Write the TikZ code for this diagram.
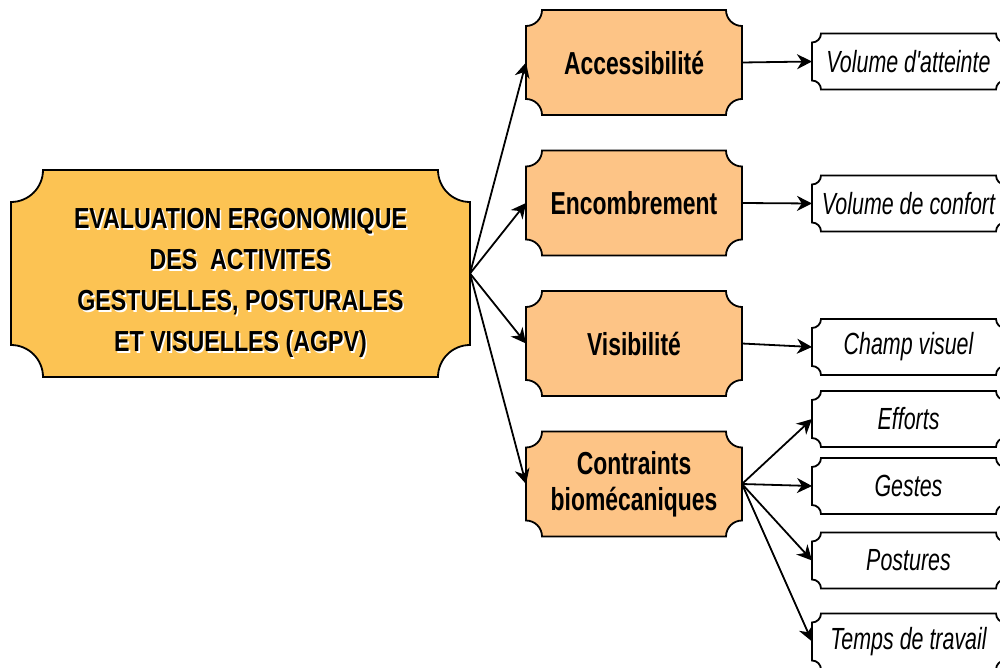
\documentclass[tikz,border=0pt]{standalone}
\usepackage{fontspec}
\setmainfont{Liberation Sans}
\newfontfamily\narrowfont[FakeStretch=0.8]{Liberation Sans}
\newfontfamily\condfont[FakeStretch=0.72]{Liberation Sans}
\newfontfamily\narrowitfont[FakeStretch=0.7]{Liberation Sans}
\usetikzlibrary{arrows.meta,backgrounds}
\definecolor{mainfill}{HTML}{FCC353}
\definecolor{boxfill}{HTML}{FDC486}
\newcommand\shadowtxt[1]{\rlap{\kern0.8pt\raisebox{-0.8pt}{\color{white}#1}}#1}
% plaque shape with concave corners, drawn round a named node
\newcommand\plaque[3]{%
  \draw[line width=0.9pt,fill=#3]
    ([xshift=#2]#1.north west) -- ([xshift=-#2]#1.north east)
    arc[start angle=180,end angle=270,radius=#2]
    -- ([yshift=#2]#1.south east)
    arc[start angle=90,end angle=180,radius=#2]
    -- ([xshift=#2]#1.south west)
    arc[start angle=0,end angle=90,radius=#2]
    -- ([yshift=-#2]#1.north west)
    arc[start angle=270,end angle=360,radius=#2]
    -- cycle;}
\begin{document}
\begin{tikzpicture}
    [
    x=0.5pt, y=0.5pt,
    mainbox/.style={outer sep=0pt,minimum width=229.5pt,minimum height=103.5pt,
      align=center,font=\narrowfont\bfseries\fontsize{14.5}{20.5}\selectfont},
    critbox/.style={outer sep=0pt,minimum width=108pt,minimum height=52.5pt,
      align=center,font=\condfont\bfseries\fontsize{15.9}{18}\selectfont},
    itembox/.style={outer sep=0pt,minimum width=96.5pt,minimum height=28pt,
      font=\narrowitfont\itshape\fontsize{15.3}{16}\selectfont},
    link/.style={line width=0.9pt,-{Stealth[length=7.5pt,width=7.5pt,inset=2.4pt]}}
    ]
    \useasboundingbox (0,0) rectangle (1000,-668);
    \node (main) at (240.5,-273.5) [mainbox]
      {\rule{0pt}{20.5pt}\shadowtxt{EVALUATION ERGONOMIQUE}\\ \shadowtxt{DES\ \ ACTIVITES}\\
       \shadowtxt{GESTUELLES, POSTURALES}\\ \shadowtxt{ET VISUELLES (AGPV)}};
    \node (acc) at (634,-62.5) [critbox] {Accessibilité};
    \node (enc) at (634,-203) [critbox] {Encombrement};
    \node (vis) at (634,-343.5) [critbox] {Visibilité};
    \node (bio) at (634,-484) [critbox] {Contraints\\biomécaniques};
    \node (atteinte) at (908.5,-61.5) [itembox] {Volume d'atteinte};
    \node (confort) at (908.5,-203.5) [itembox] {Volume de confort};
    \node (champ) at (908.5,-347) [itembox] {Champ visuel};
    \node (efforts) at (908.5,-419) [itembox] {Efforts};
    \node (gestes) at (908.5,-486) [itembox] {Gestes};
    \node (postures) at (908.5,-560.5) [itembox] {Postures};
    \node (temps) at (908.5,-641.5) [itembox] {Temps de travail};
    \begin{pgfonlayer}{background}
      \foreach \n/\r/\c in {main/16pt/mainfill, acc/8pt/boxfill, enc/8pt/boxfill,
          vis/8pt/boxfill, bio/8pt/boxfill, atteinte/4.5pt/white, confort/4.5pt/white,
          champ/4.5pt/white, efforts/4.5pt/white, gestes/4.5pt/white,
          postures/4.5pt/white, temps/4.5pt/white}
        {\plaque{\n}{\r}{\c}}
    \end{pgfonlayer}
    \draw [link] (main.east) to (acc.west);
    \draw [link] (main.east) to (enc.west);
    \draw [link] (main.east) to (vis.west);
    \draw [link] (main.east) to (bio.west);
    \draw [link] (acc.east) to (atteinte.west);
    \draw [link] (enc.east) to (confort.west);
    \draw [link] (vis.east) to (champ.west);
    \draw [link] (bio.east) to (efforts.west);
    \draw [link] (bio.east) to (gestes.west);
    \draw [link] (bio.east) to (postures.west);
    \draw [link] (bio.east) to (temps.west);
  \end{tikzpicture}
\end{document}
